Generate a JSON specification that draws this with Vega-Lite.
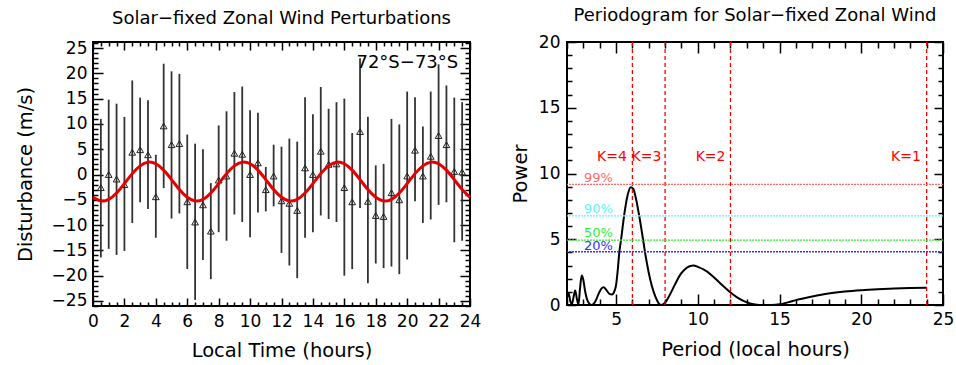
{
  "$schema": "https://vega.github.io/schema/vega-lite/v6.json",
  "padding": {"left": 14, "top": 6, "right": 5, "bottom": 0},
  "spacing": 27,
  "config": {
    "font": "DejaVu Sans",
    "view": {"stroke": "#000", "strokeWidth": 2},
    "axis": {"grid": false, "domain": false, "labelFont": "DejaVu Sans", "labelFontSize": 17, "labelColor": "#000", "titleFont": "DejaVu Sans", "titleFontSize": 19.5, "titleFontWeight": "normal", "titleColor": "#000", "tickColor": "#000", "tickWidth": 1.5, "labelOverlap": false, "labelFlush": false, "format": "d"},
    "title": {"font": "DejaVu Sans", "fontSize": 18, "fontWeight": "normal", "color": "#000"}
  },
  "datasets": {
    "obs": [
      {"t": 0.5, "v": -2.6, "lo": -16.4, "hi": 11.0},
      {"t": 1.0, "v": 0.0, "lo": -14.7, "hi": 14.8},
      {"t": 1.5, "v": -0.9, "lo": -15.9, "hi": 14.0},
      {"t": 2.0, "v": -2.0, "lo": -15.1, "hi": 11.4},
      {"t": 2.5, "v": 4.4, "lo": -9.6, "hi": 18.6},
      {"t": 3.0, "v": 4.9, "lo": -5.5, "hi": 15.2},
      {"t": 3.5, "v": 3.9, "lo": -6.8, "hi": 14.7},
      {"t": 4.0, "v": -4.4, "lo": -12.5, "hi": 3.9},
      {"t": 4.5, "v": 9.6, "lo": -2.7, "hi": 21.9},
      {"t": 5.0, "v": 5.9, "lo": -8.7, "hi": 20.4},
      {"t": 5.5, "v": 6.1, "lo": -7.7, "hi": 19.9},
      {"t": 6.0, "v": -5.4, "lo": -18.7, "hi": 7.9},
      {"t": 6.5, "v": -9.4, "lo": -24.8, "hi": 6.1},
      {"t": 7.0, "v": -6.0, "lo": -16.9, "hi": 5.0},
      {"t": 7.5, "v": -11.2, "lo": -20.7, "hi": -1.7},
      {"t": 8.0, "v": -1.1, "lo": -11.4, "hi": 9.7},
      {"t": 8.5, "v": -0.3, "lo": -13.1, "hi": 12.5},
      {"t": 9.0, "v": 4.2, "lo": -7.9, "hi": 16.3},
      {"t": 9.5, "v": 4.0, "lo": -9.4, "hi": 17.4},
      {"t": 10.0, "v": 0.0, "lo": -12.4, "hi": 12.7},
      {"t": 10.5, "v": 2.3, "lo": -7.5, "hi": 12.2},
      {"t": 11.0, "v": -3.0, "lo": -7.3, "hi": 1.5},
      {"t": 11.5, "v": -0.3, "lo": -6.3, "hi": 5.9},
      {"t": 12.0, "v": -5.2, "lo": -15.5, "hi": 5.5},
      {"t": 12.5, "v": -5.7, "lo": -18.0, "hi": 7.1},
      {"t": 13.0, "v": -7.1, "lo": -20.5, "hi": 6.5},
      {"t": 13.5, "v": 1.3, "lo": -12.5, "hi": 15.3},
      {"t": 14.0, "v": 0.0, "lo": -11.4, "hi": 11.9},
      {"t": 14.5, "v": 4.6, "lo": -8.1, "hi": 17.3},
      {"t": 15.0, "v": 2.0, "lo": -8.8, "hi": 13.0},
      {"t": 15.5, "v": 2.1, "lo": -9.4, "hi": 14.3},
      {"t": 16.0, "v": -2.6, "lo": -20.0, "hi": 15.0},
      {"t": 16.5, "v": -5.4, "lo": -18.7, "hi": 8.2},
      {"t": 17.0, "v": 8.5, "lo": -6.6, "hi": 23.0},
      {"t": 17.5, "v": -5.3, "lo": -21.5, "hi": 11.4},
      {"t": 18.0, "v": -8.1, "lo": -17.6, "hi": 1.8},
      {"t": 18.5, "v": -8.3, "lo": -18.5, "hi": 2.1},
      {"t": 19.0, "v": -3.6, "lo": -18.2, "hi": 11.0},
      {"t": 19.5, "v": -5.0, "lo": -19.7, "hi": 9.9},
      {"t": 20.0, "v": -0.3, "lo": -16.8, "hi": 16.4},
      {"t": 20.5, "v": 4.8, "lo": -5.3, "hi": 15.3},
      {"t": 21.0, "v": -0.3, "lo": -9.6, "hi": 9.5},
      {"t": 21.5, "v": 3.6, "lo": -8.9, "hi": 16.4},
      {"t": 22.0, "v": 7.7, "lo": -6.0, "hi": 21.8},
      {"t": 22.5, "v": 5.9, "lo": -5.5, "hi": 17.6},
      {"t": 23.0, "v": 0.6, "lo": -13.4, "hi": 15.2},
      {"t": 23.5, "v": 0.5, "lo": -13.1, "hi": 14.3}
    ],
    "fit": [
      {"t": 0.0, "f": -4.51}, {"t": 0.5, "f": -5.23}, {"t": 1.0, "f": -4.92}, {"t": 1.5, "f": -3.66},
      {"t": 2.0, "f": -1.80}, {"t": 2.5, "f": 0.17}, {"t": 3.0, "f": 1.71}, {"t": 3.5, "f": 2.43},
      {"t": 4.0, "f": 2.12}, {"t": 4.5, "f": 0.86}, {"t": 5.0, "f": -1.0}, {"t": 5.5, "f": -2.97},
      {"t": 6.0, "f": -4.51}, {"t": 6.5, "f": -5.23}, {"t": 7.0, "f": -4.92}, {"t": 7.5, "f": -3.66},
      {"t": 8.0, "f": -1.80}, {"t": 8.5, "f": 0.17}, {"t": 9.0, "f": 1.71}, {"t": 9.5, "f": 2.43},
      {"t": 10.0, "f": 2.12}, {"t": 10.5, "f": 0.86}, {"t": 11.0, "f": -1.0}, {"t": 11.5, "f": -2.97},
      {"t": 12.0, "f": -4.51}, {"t": 12.5, "f": -5.23}, {"t": 13.0, "f": -4.92}, {"t": 13.5, "f": -3.66},
      {"t": 14.0, "f": -1.80}, {"t": 14.5, "f": 0.17}, {"t": 15.0, "f": 1.71}, {"t": 15.5, "f": 2.43},
      {"t": 16.0, "f": 2.12}, {"t": 16.5, "f": 0.86}, {"t": 17.0, "f": -1.0}, {"t": 17.5, "f": -2.97},
      {"t": 18.0, "f": -4.51}, {"t": 18.5, "f": -5.23}, {"t": 19.0, "f": -4.92}, {"t": 19.5, "f": -3.66},
      {"t": 20.0, "f": -1.80}, {"t": 20.5, "f": 0.17}, {"t": 21.0, "f": 1.71}, {"t": 21.5, "f": 2.43},
      {"t": 22.0, "f": 2.12}, {"t": 22.5, "f": 0.86}, {"t": 23.0, "f": -1.0}, {"t": 23.5, "f": -2.97},
      {"t": 24.0, "f": -4.51}
    ],
    "lat": [{"x": 23.25, "y": 22.05, "label": "72°S−73°S"}],
    "per": [
      {"p": 2.0, "pw": 0.5}, {"p": 2.1, "pw": 0.9}, {"p": 2.2, "pw": 0.3}, {"p": 2.3, "pw": 0.05},
      {"p": 2.4, "pw": 0.6}, {"p": 2.5, "pw": 1.1}, {"p": 2.6, "pw": 0.5}, {"p": 2.7, "pw": 0.05},
      {"p": 2.8, "pw": 1.3}, {"p": 2.9, "pw": 2.25}, {"p": 3.0, "pw": 1.9}, {"p": 3.1, "pw": 1.1},
      {"p": 3.25, "pw": 0.35}, {"p": 3.5, "pw": 0.0}, {"p": 3.7, "pw": 0.2}, {"p": 3.9, "pw": 0.75},
      {"p": 4.1, "pw": 1.25}, {"p": 4.25, "pw": 1.35}, {"p": 4.4, "pw": 1.15}, {"p": 4.6, "pw": 0.85},
      {"p": 4.75, "pw": 0.8}, {"p": 4.9, "pw": 1.05}, {"p": 5.0, "pw": 1.5}, {"p": 5.1, "pw": 2.6},
      {"p": 5.2, "pw": 4.0}, {"p": 5.3, "pw": 4.9}, {"p": 5.5, "pw": 6.85}, {"p": 5.7, "pw": 8.3},
      {"p": 5.9, "pw": 8.95}, {"p": 6.05, "pw": 8.85}, {"p": 6.2, "pw": 8.2}, {"p": 6.4, "pw": 6.9},
      {"p": 6.6, "pw": 5.4}, {"p": 6.7, "pw": 4.6}, {"p": 6.8, "pw": 3.8}, {"p": 6.9, "pw": 3.1},
      {"p": 7.0, "pw": 2.45}, {"p": 7.2, "pw": 1.4}, {"p": 7.4, "pw": 0.65}, {"p": 7.6, "pw": 0.15},
      {"p": 7.75, "pw": 0.0}, {"p": 7.9, "pw": 0.06}, {"p": 8.1, "pw": 0.35}, {"p": 8.3, "pw": 0.8},
      {"p": 8.6, "pw": 1.55}, {"p": 8.9, "pw": 2.25}, {"p": 9.2, "pw": 2.7}, {"p": 9.5, "pw": 2.95},
      {"p": 9.75, "pw": 3.0}, {"p": 10.0, "pw": 2.9}, {"p": 10.5, "pw": 2.6}, {"p": 11.0, "pw": 2.1},
      {"p": 11.5, "pw": 1.5}, {"p": 12.0, "pw": 0.95}, {"p": 12.5, "pw": 0.5}, {"p": 13.0, "pw": 0.2},
      {"p": 13.5, "pw": 0.04}, {"p": 14.0, "pw": 0.0}, {"p": 14.5, "pw": 0.0}, {"p": 15.0, "pw": 0.05},
      {"p": 15.5, "pw": 0.2}, {"p": 16.0, "pw": 0.37}, {"p": 17.0, "pw": 0.65}, {"p": 18.0, "pw": 0.88},
      {"p": 19.0, "pw": 1.03}, {"p": 20.0, "pw": 1.13}, {"p": 21.0, "pw": 1.2}, {"p": 22.0, "pw": 1.25},
      {"p": 23.0, "pw": 1.29}, {"p": 24.0, "pw": 1.32}
    ],
    "klines": [{"p": 6}, {"p": 8}, {"p": 12}, {"p": 24}],
    "klab": [
      {"x": 4.75, "y": 10.95, "k": "K=4"},
      {"x": 6.86, "y": 10.95, "k": "K=3"},
      {"x": 10.78, "y": 10.95, "k": "K=2"},
      {"x": 22.73, "y": 10.95, "k": "K=1"}
    ],
    "sig": [
      {"name": "99%", "level": 9.18, "lx": 3.04, "ly": 9.32},
      {"name": "90%", "level": 6.77, "lx": 3.04, "ly": 7.02},
      {"name": "50%", "level": 4.94, "lx": 3.04, "ly": 5.19},
      {"name": "20%", "level": 4.05, "lx": 3.04, "ly": 4.2}
    ]
  },
  "hconcat": [
    {
      "width": 377,
      "height": 264,
      "title": {"text": "Solar−fixed Zonal Wind Perturbations", "offset": 6},
      "resolve": {"axis": {"x": "independent", "y": "independent"}},
      "layer": [
        {
          "data": {"name": "obs"},
          "mark": {"type": "rule", "color": "#333", "strokeWidth": 1.8},
          "encoding": {
            "x": {"field": "t", "type": "quantitative", "scale": {"domain": [0, 24], "nice": false, "zero": false},
              "axis": {"orient": "bottom", "title": "Local Time (hours)", "titlePadding": 8,
                "values": [0,0.5,1,1.5,2,2.5,3,3.5,4,4.5,5,5.5,6,6.5,7,7.5,8,8.5,9,9.5,10,10.5,11,11.5,12,12.5,13,13.5,14,14.5,15,15.5,16,16.5,17,17.5,18,18.5,19,19.5,20,20.5,21,21.5,22,22.5,23,23.5,24],
                "labelExpr": "datum.value % 2 === 0 ? datum.label : ''",
                "tickSize": {"condition": {"test": "datum.value % 2 === 0", "value": -8}, "value": -4},
                "labelPadding": 15}},
            "y": {"field": "lo", "type": "quantitative", "scale": {"domain": [-26, 26.2], "nice": false, "zero": false},
              "axis": {"orient": "left", "title": "Disturbance (m/s)", "titlePadding": 16,
                "values": [-26,-25,-24,-23,-22,-21,-20,-19,-18,-17,-16,-15,-14,-13,-12,-11,-10,-9,-8,-7,-6,-5,-4,-3,-2,-1,0,1,2,3,4,5,6,7,8,9,10,11,12,13,14,15,16,17,18,19,20,21,22,23,24,25,26],
                "labelExpr": "datum.value % 5 === 0 ? datum.label : ''",
                "tickSize": {"condition": {"test": "datum.value % 5 === 0", "value": -10}, "value": -5},
                "labelPadding": 16}},
            "y2": {"field": "hi"}
          }
        },
        {
          "data": {"name": "obs"},
          "mark": {"type": "point", "shape": "triangle-up", "filled": false, "stroke": "#222", "strokeWidth": 1, "size": 45, "opacity": 1},
          "encoding": {
            "x": {"field": "t", "type": "quantitative",
              "axis": {"orient": "top", "title": null, "labels": false,
                "values": [0,0.5,1,1.5,2,2.5,3,3.5,4,4.5,5,5.5,6,6.5,7,7.5,8,8.5,9,9.5,10,10.5,11,11.5,12,12.5,13,13.5,14,14.5,15,15.5,16,16.5,17,17.5,18,18.5,19,19.5,20,20.5,21,21.5,22,22.5,23,23.5,24],
                "tickSize": {"condition": {"test": "datum.value % 2 === 0", "value": -8}, "value": -4}}},
            "y": {"field": "v", "type": "quantitative",
              "axis": {"orient": "right", "title": null, "labels": false,
                "values": [-26,-25,-24,-23,-22,-21,-20,-19,-18,-17,-16,-15,-14,-13,-12,-11,-10,-9,-8,-7,-6,-5,-4,-3,-2,-1,0,1,2,3,4,5,6,7,8,9,10,11,12,13,14,15,16,17,18,19,20,21,22,23,24,25,26],
                "tickSize": {"condition": {"test": "datum.value % 5 === 0", "value": -10}, "value": -5}}}
          }
        },
        {
          "data": {"name": "fit"},
          "mark": {"type": "line", "color": "#e60000", "strokeWidth": 3, "interpolate": "natural"},
          "encoding": {
            "x": {"field": "t", "type": "quantitative", "axis": null},
            "y": {"field": "f", "type": "quantitative", "axis": null}
          }
        },
        {
          "data": {"name": "lat"},
          "mark": {"type": "text", "align": "right", "baseline": "middle", "fontSize": 18, "color": "#000"},
          "encoding": {
            "x": {"field": "x", "type": "quantitative", "axis": null},
            "y": {"field": "y", "type": "quantitative", "axis": null},
            "text": {"field": "label"}
          }
        }
      ]
    },
    {
      "width": 376,
      "height": 263,
      "title": {"text": "Periodogram for Solar−fixed Zonal Wind", "offset": 8},
      "resolve": {"axis": {"x": "independent", "y": "independent"}},
      "layer": [
        {
          "data": {"name": "per"},
          "mark": {"type": "line", "color": "#000", "strokeWidth": 2, "interpolate": "monotone"},
          "encoding": {
            "x": {"field": "p", "type": "quantitative", "scale": {"domain": [2, 25], "nice": false, "zero": false},
              "axis": {"orient": "bottom", "title": "Period (local hours)", "titlePadding": 8,
                "values": [2,3,4,5,6,7,8,9,10,11,12,13,14,15,16,17,18,19,20,21,22,23,24,25],
                "labelExpr": "datum.value % 5 === 0 ? datum.label : ''",
                "tickSize": {"condition": {"test": "datum.value % 5 === 0", "value": -11}, "value": -6},
                "labelPadding": 17}},
            "y": {"field": "pw", "type": "quantitative", "scale": {"domain": [0, 20], "nice": false, "zero": false},
              "axis": {"orient": "left", "title": "Power", "titlePadding": 8,
                "values": [0,1,2,3,4,5,6,7,8,9,10,11,12,13,14,15,16,17,18,19,20],
                "labelExpr": "datum.value % 5 === 0 ? datum.label : ''",
                "tickSize": {"condition": {"test": "datum.value % 5 === 0", "value": -9}, "value": -5},
                "labelPadding": 16}}
          }
        },
        {
          "data": {"name": "klines"},
          "mark": {"type": "rule", "color": "#ff0000", "strokeDash": [4, 3], "strokeWidth": 1.3},
          "encoding": {
            "x": {"field": "p", "type": "quantitative",
              "axis": {"orient": "top", "title": null, "labels": false,
                "values": [2,3,4,5,6,7,8,9,10,11,12,13,14,15,16,17,18,19,20,21,22,23,24,25],
                "tickSize": {"condition": {"test": "datum.value % 5 === 0", "value": -11}, "value": -6}}}
          }
        },
        {
          "data": {"name": "sig"},
          "mark": {"type": "rule", "strokeDash": [2, 1], "strokeWidth": 1.3},
          "encoding": {
            "y": {"field": "level", "type": "quantitative",
              "axis": {"orient": "right", "title": null, "labels": false,
                "values": [0,1,2,3,4,5,6,7,8,9,10,11,12,13,14,15,16,17,18,19,20],
                "tickSize": {"condition": {"test": "datum.value % 5 === 0", "value": -9}, "value": -5}}},
            "color": {"field": "name", "type": "nominal", "scale": {"domain": ["99%", "90%", "50%", "20%"], "range": ["#ff6a6a", "#5ff5f5", "#33ee33", "#3333ff"]}, "legend": null}
          }
        },
        {
          "data": {"name": "sig"},
          "mark": {"type": "text", "align": "left", "baseline": "alphabetic", "fontSize": 13},
          "encoding": {
            "x": {"field": "lx", "type": "quantitative", "axis": null},
            "y": {"field": "ly", "type": "quantitative", "axis": null},
            "text": {"field": "name"},
            "color": {"field": "name", "type": "nominal", "scale": {"domain": ["99%", "90%", "50%", "20%"], "range": ["#ff6a6a", "#5ff5f5", "#33ee33", "#3333ff"]}, "legend": null}
          }
        },
        {
          "data": {"name": "klab"},
          "mark": {"type": "text", "align": "center", "baseline": "alphabetic", "fontSize": 14, "color": "#ff0000"},
          "encoding": {
            "x": {"field": "x", "type": "quantitative", "axis": null},
            "y": {"field": "y", "type": "quantitative", "axis": null},
            "text": {"field": "k"}
          }
        }
      ]
    }
  ]
}
